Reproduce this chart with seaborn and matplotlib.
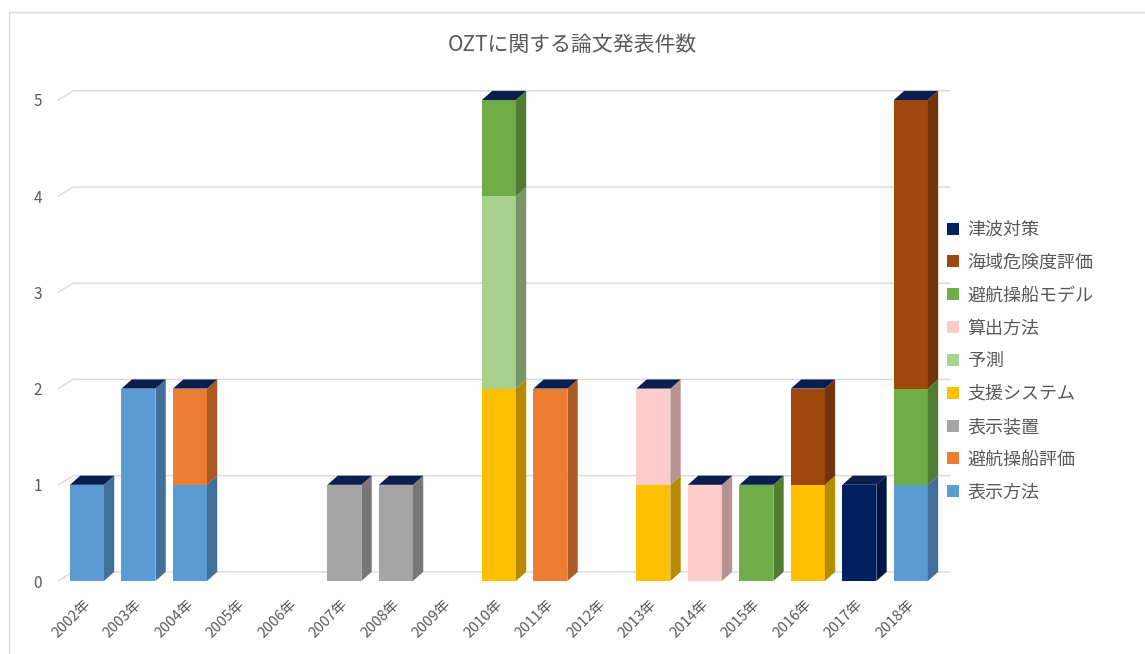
import numpy as np
import pandas as pd
import matplotlib
matplotlib.use("Agg")
import matplotlib.pyplot as plt
from matplotlib.patches import Polygon, Rectangle
from matplotlib.lines import Line2D
from matplotlib.transforms import ScaledTranslation
import matplotlib.colors as mcolors
import seaborn as sns

# ---- data ----
years = ["2002年", "2003年", "2004年", "2005年", "2006年", "2007年", "2008年", "2009年",
         "2010年", "2011年", "2012年", "2013年", "2014年", "2015年", "2016年", "2017年", "2018年"]

# series, stacked bottom -> top
hyouji_houhou   = [1, 2, 1, 0, 0, 0, 0, 0, 0, 0, 0, 0, 0, 0, 0, 0, 1]   # 表示方法
hikou_hyouka    = [0, 0, 1, 0, 0, 0, 0, 0, 0, 2, 0, 0, 0, 0, 0, 0, 0]   # 避航操船評価
hyouji_souchi   = [0, 0, 0, 0, 0, 1, 1, 0, 0, 0, 0, 0, 0, 0, 0, 0, 0]   # 表示装置
shien_system    = [0, 0, 0, 0, 0, 0, 0, 0, 2, 0, 0, 1, 0, 0, 1, 0, 0]   # 支援システム
yosoku          = [0, 0, 0, 0, 0, 0, 0, 0, 2, 0, 0, 0, 0, 0, 0, 0, 0]   # 予測
sanshutsu       = [0, 0, 0, 0, 0, 0, 0, 0, 0, 0, 0, 1, 1, 0, 0, 0, 0]   # 算出方法
hikou_model     = [0, 0, 0, 0, 0, 0, 0, 0, 1, 0, 0, 0, 0, 1, 0, 0, 1]   # 避航操船モデル
kaiiki_kiken    = [0, 0, 0, 0, 0, 0, 0, 0, 0, 0, 0, 0, 0, 0, 1, 0, 3]   # 海域危険度評価
tsunami         = [0, 0, 0, 0, 0, 0, 0, 0, 0, 0, 0, 0, 0, 0, 0, 1, 0]   # 津波対策

series_names = ["表示方法", "避航操船評価", "表示装置", "支援システム", "予測",
                "算出方法", "避航操船モデル", "海域危険度評価", "津波対策"]
series_values = [hyouji_houhou, hikou_hyouka, hyouji_souchi, shien_system, yosoku,
                 sanshutsu, hikou_model, kaiiki_kiken, tsunami]
series_colors = ["#5B9BD5", "#ED7D31", "#A5A5A5", "#FFC000", "#A9D18E",
                 "#FFCCCC", "#70AD47", "#9E480E", "#002060"]
top_color = "#0C1E4E"

title = "OZTに関する論文発表件数"
yticks = [0, 1, 2, 3, 4, 5]

# ---- style ----
sns.set_theme(style="white")
plt.rcParams["font.family"] = ["Noto Sans CJK JP", "DejaVu Sans"]
text_color = "#595959"
grid_color = "#D9D9D9"

W, H = 1145, 654
fig = plt.figure(figsize=(W / 100, H / 100), dpi=100)

# chart-area frame
fig.patches.append(Rectangle((9 / W, -0.05), 1.2, 1 - 12 / H + 0.05, transform=fig.transFigure,
                             fill=False, edgecolor="#D9D9D9", linewidth=1.0, zorder=0))

ax = fig.add_axes([60 / W, (H - 581) / H, 890 / W, 5.2 * 96.2 / H])

df = pd.DataFrame(np.array(series_values).T, columns=series_names)
df.insert(0, "year", years)
cum = df[series_names].cumsum(axis=1)

bar_w = 0.66
depth_x = 0.20   # depth offset in x data units
depth_y = 0.095  # depth offset in y data units

# front faces: draw cumulative totals from the top series down so each layer shows its own band
for name, color in reversed(list(zip(series_names, series_colors))):
    sns.barplot(x=df["year"], y=cum[name], color=color, saturation=1, width=bar_w,
                ax=ax, linewidth=0, zorder=3)

def darker(c, f=0.72):
    r, g, b = mcolors.to_rgb(c)
    return (r * f, g * f, b * f)

xpos = np.arange(len(years))
values = np.array(series_values, dtype=float)
bottoms = np.vstack([np.zeros(len(years)), np.cumsum(values, axis=0)[:-1]])
totals = values.sum(axis=0)

# side faces
for si, color in enumerate(series_colors):
    for i in xpos:
        v = values[si, i]
        if v <= 0:
            continue
        b = bottoms[si, i]
        t = b + v
        xr = i + bar_w / 2
        ax.add_patch(Polygon([(xr, b), (xr + depth_x, b + depth_y), (xr + depth_x, t + depth_y), (xr, t)],
                             closed=True, facecolor=darker(color), edgecolor="none", zorder=3))

# top faces
for i in xpos:
    T = totals[i]
    if T <= 0:
        continue
    xl, xr = i - bar_w / 2, i + bar_w / 2
    ax.add_patch(Polygon([(xl, T), (xl + depth_x, T + depth_y), (xr + depth_x, T + depth_y), (xr, T)],
                         closed=True, facecolor=top_color, edgecolor="none", zorder=3))

x0, x1 = -0.524, 16.76
ax.set_xlim(x0, x1)
ax.set_ylim(0, 5.2)

# back-wall gridlines with the slanted floor/side edge
for k in yticks:
    ax.plot([x0 - 0.04, x0 - 0.04 + depth_x * 1.5, x1], [k, k + depth_y, k + depth_y],
            color=grid_color, linewidth=1.0, zorder=1, clip_on=False)

for s in ax.spines.values():
    s.set_visible(False)
ax.set_xlabel("")
ax.set_ylabel("")
ax.grid(False)

ax.set_yticks(yticks)
ax.set_yticklabels([str(v) for v in yticks])
ax.tick_params(axis="y", length=0, pad=13, labelsize=11, labelcolor=text_color)

ax.set_xticks(xpos)
ax.set_xticklabels(years)
ax.tick_params(axis="x", length=0, pad=15, labelsize=10.5, labelcolor=text_color)
for lab in ax.get_xticklabels():
    lab.set_rotation(45)
    lab.set_ha("right")
    lab.set_va("center")
    lab.set_rotation_mode("anchor")
    lab.set_transform(lab.get_transform() + ScaledTranslation(1 / 100, 0, fig.dpi_scale_trans))

fig.text(0.5, 1 - 45 / H, title, ha="center", va="center", fontsize=15, color=text_color)

handles = [Line2D([], [], marker="s", linestyle="", markersize=8, color=c, markeredgewidth=0)
           for c in series_colors]
leg = fig.legend(handles[::-1], series_names[::-1], loc="upper left",
                 bbox_to_anchor=(946 / W, 1 - 221 / H), frameon=False, fontsize=13,
                 labelspacing=0.82, handlelength=0.8, handletextpad=0.4, borderpad=0,
                 borderaxespad=0)
for t in leg.get_texts():
    t.set_color(text_color)

fig.savefig("out.png", dpi=100, facecolor="white")
